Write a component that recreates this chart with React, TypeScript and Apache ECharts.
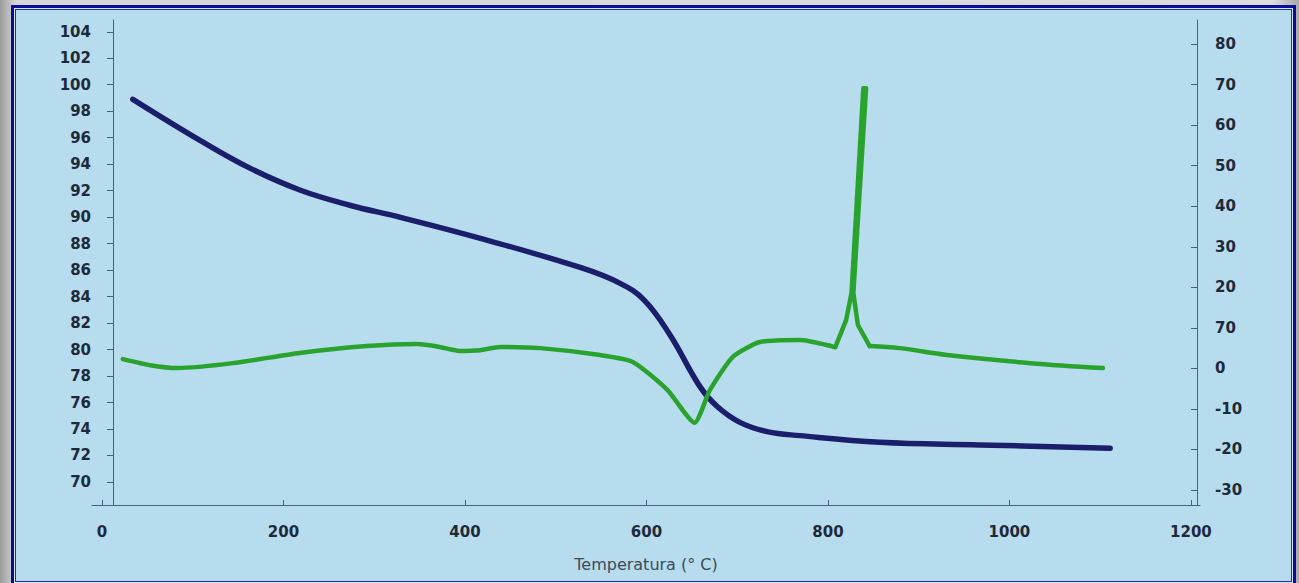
import React, { useEffect, useRef } from "react";
import * as echarts from "echarts";

// TG curve (left axis, %), [temperature °C, mass %]
const tgTemp = [34, 108, 163, 218, 273, 328, 417, 527, 571, 598, 626, 659, 678, 703, 733, 769, 857, 967, 1111];
const tgMass = [98.9, 95.8, 93.7, 92.05, 90.9, 90.0, 88.4, 86.2, 85.0, 83.7, 81.1, 77.2, 75.7, 74.5, 73.8, 73.5, 73.0, 72.8, 72.55];

// DTA curve (right axis), [temperature °C, signal]
const dtaTemp = [23, 53, 83, 144, 218, 292, 347, 372, 394, 417, 439, 483, 549, 585, 623, 653, 670, 695, 725, 769, 802, 808, 820, 826, 839, 842, 828, 833, 846, 879, 931, 1023, 1103];
const dtaSignal = [2.3, 0.8, 0.1, 1.3, 3.8, 5.5, 6.0, 5.3, 4.3, 4.5, 5.3, 5.0, 3.3, 1.6, -5.3, -13.4, -5.3, 2.8, 6.5, 7.0, 5.6, 5.2, 11.9, 18.6, 69.1, 69.1, 18.6, 10.7, 5.5, 5.0, 3.3, 1.3, 0.1];

// Tick labels
const xTicks = [0, 200, 400, 600, 800, 1000, 1200];
const leftTicks = [70, 72, 74, 76, 78, 80, 82, 84, 86, 88, 90, 92, 94, 96, 98, 100, 102, 104];
const rightTicks = [-30, -20, -10, 0, 10, 20, 30, 40, 50, 60, 70, 80];
const rightTickLabels = ["-30", "-20", "-10", "0", "70", "20", "30", "40", "50", "60", "70", "80"];
const xTitle = "Temperatura (° C)";

const tgData = tgTemp.map((t, i) => [t, tgMass[i]]);
const dtaData = dtaTemp.map((t, i) => [t, dtaSignal[i]]);
// split the DTA curve: smooth baseline before the exothermic spike, the sharp spike, smooth baseline after
const spikeStart = 20; // index of 802 °C
const spikeEnd = 28; // index of 846 °C
const dtaBefore = dtaData.slice(0, spikeStart + 1);
const dtaSpike = dtaData.slice(spikeStart, spikeEnd + 1);
const dtaAfter = dtaData.slice(spikeEnd);

const FONT = "'DejaVu Sans', Verdana, sans-serif";
const labelFont = {
  fontFamily: FONT,
  fontWeight: "bold" as const,
  fontSize: 15,
  color: "#1e2a3a",
};

export default function App() {
  const ref = useRef<HTMLDivElement>(null);
  useEffect(() => {
    if (!ref.current) return;
    const chart = echarts.init(ref.current, undefined, { renderer: "svg" });
    const axisLine = { show: true, lineStyle: { color: "#4d5f80", width: 1 } };
    const green = { color: "#2aa32e", width: 4.5, cap: "round", join: "round" };
    chart.setOption({
      animation: false,
      backgroundColor: "transparent",
      grid: { left: 92, right: 99, top: 20, bottom: 78, containLabel: false },
      xAxis: {
        type: "value",
        min: -11,
        max: 1210,
        axisLine: { ...axisLine, onZero: false },
        axisTick: { show: true, inside: true, length: 5, customValues: xTicks, lineStyle: { color: "#4d5f80" } },
        axisLabel: { ...labelFont, customValues: xTicks, margin: 19, formatter: (v: number) => String(v) },
        splitLine: { show: false },
        name: xTitle,
        nameLocation: "middle",
        nameGap: 51,
        nameTextStyle: { fontFamily: FONT, fontSize: 16, color: "#3e4a58" },
      },
      yAxis: [
        {
          type: "value",
          position: "left",
          min: 68.26,
          max: 104.89,
          offset: -21,
          axisLine: { ...axisLine, onZero: false },
          axisTick: { show: true, length: 6, customValues: leftTicks, lineStyle: { color: "#4d5f80" } },
          axisLabel: { ...labelFont, customValues: leftTicks, margin: 22, formatter: (v: number) => String(v) },
          splitLine: { show: false },
        },
        {
          type: "value",
          position: "right",
          min: -33.69,
          max: 85.93,
          offset: -3,
          axisLine: { ...axisLine, onZero: false },
          axisTick: { show: true, inside: true, length: 6, customValues: rightTicks, lineStyle: { color: "#4d5f80" } },
          axisLabel: {
            ...labelFont,
            customValues: rightTicks,
            margin: 18,
            formatter: (v: number) => {
              const i = rightTicks.indexOf(Math.round(v));
              return i >= 0 ? rightTickLabels[i] : String(v);
            },
          },
          splitLine: { show: false },
        },
      ],
      series: [
        {
          type: "line",
          name: "TG",
          yAxisIndex: 0,
          data: tgData,
          smooth: 0.4,
          showSymbol: false,
          lineStyle: { color: "#1b1f6b", width: 5.5, cap: "round", join: "round" },
        },
        {
          type: "line",
          name: "DTA",
          yAxisIndex: 1,
          data: dtaBefore,
          smooth: 0.2,
          showSymbol: false,
          lineStyle: green,
        },
        {
          type: "line",
          name: "DTA spike",
          yAxisIndex: 1,
          data: dtaSpike,
          smooth: false,
          showSymbol: false,
          lineStyle: green,
        },
        {
          type: "line",
          name: "DTA after",
          yAxisIndex: 1,
          data: dtaAfter,
          smooth: 0.35,
          showSymbol: false,
          lineStyle: green,
        },
      ],
    });
    return () => chart.dispose();
  }, []);

  return (
    <div
      style={{
        position: "fixed",
        left: 0,
        top: 0,
        width: 1299,
        height: 583,
        background: "linear-gradient(to right, #9c9c9c 0%, #d6d6d6 1.2%, #dcdcdc 98%, #a8a8a8 100%)",
        overflow: "hidden",
      }}
    >
      <div
        style={{
          position: "absolute",
          left: 11,
          top: 5,
          width: 1285 - 6,
          height: 583 - 5 - 3,
          border: "3px solid #0c0c9c",
          boxShadow: "inset 0 0 0 1px #d8e4f8, inset 0 0 0 2px #2a2ab0",
          background: "#b7dcee",
        }}
      />
      <div ref={ref} style={{ position: "absolute", left: 0, top: 0, width: 1299, height: 583 }} />
    </div>
  );
}
